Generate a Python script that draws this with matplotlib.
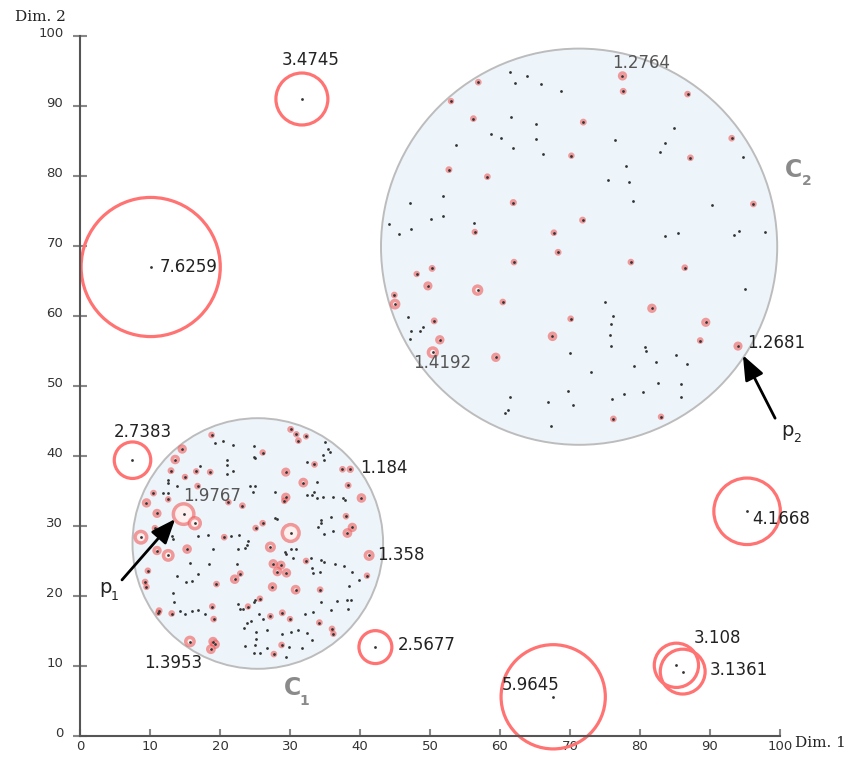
import matplotlib.pyplot as plt
from matplotlib.patches import Circle
from matplotlib.transforms import ScaledTranslation

# cluster discs (centre, radius)
clust_x = [25.4, 71.3]
clust_y = [27.5, 69.9]
clust_r = [17.9, 28.3]

# points of cluster C1 with their LOF score
c1_x = [18.8, 30.1, 30.9, 31.2, 32.3, 19.3, 20.5, 21.9, 24.8, 14.6,
        26.1, 24.8, 25.0, 35.0, 35.5, 35.7, 34.7, 13.6, 21.0, 21.0,
        32.4, 33.5, 34.8, 17.1, 13.0, 16.6, 18.6, 21.0, 21.9, 29.4,
        37.5, 38.6, 12.6, 12.6, 15.0, 13.8, 16.8, 31.9, 38.3, 33.8,
        24.3, 25.0, 24.7, 10.5, 11.9, 12.6, 12.6, 27.9, 32.4, 33.1,
        33.5, 33.8, 29.4, 29.2, 34.7, 36.2, 37.6, 37.9, 40.2, 9.5,
        21.2, 23.2, 11.0, 14.8, 16.4, 27.9, 28.1, 26.1, 34.4, 34.5,
        35.8, 38.0, 38.9, 38.2, 10.7, 25.1, 8.7, 13.1, 13.3, 30.1,
        16.9, 18.3, 20.6, 21.6, 22.7, 34.0, 34.9, 36.2, 11.0, 12.6,
        15.3, 19.0, 22.6, 23.6, 24.0, 23.8, 27.2, 29.3, 29.5, 30.2,
        30.9, 30.4, 32.3, 33.0, 34.5, 34.8, 36.4, 37.7, 41.3, 27.6,
        28.7, 28.2, 29.5, 15.7, 18.5, 22.4, 33.2, 33.3, 9.7, 34.3,
        38.9, 39.9, 41.0, 13.8, 16.8, 16.0, 15.2, 22.1, 22.9, 9.3,
        9.5, 19.5, 27.5, 30.8, 34.3, 38.4, 13.3, 13.5, 25.7, 25.0,
        24.9, 22.6, 22.9, 23.3, 24.0, 34.5, 36.7, 38.1, 38.7, 18.9,
        11.3, 11.2, 13.1, 14.3, 15.0, 16.0, 16.9, 17.9, 25.6, 26.2,
        27.2, 28.9, 32.1, 33.3, 35.8, 38.3, 19.1, 30.0, 34.2, 23.8,
        23.4, 24.5, 31.2, 30.1, 25.1, 25.2, 26.7, 28.9, 36.0, 36.2,
        33.2, 32.4, 15.7, 19.0, 19.3, 18.7, 23.6, 25.0, 26.7, 28.8,
        29.8, 31.7, 24.8, 25.7, 27.7, 29.5]
c1_y = [43.0, 43.8, 43.1, 42.2, 42.8, 41.8, 42.2, 41.6, 41.5, 41.0,
        40.5, 39.9, 39.7, 42.0, 41.0, 40.6, 40.1, 39.5, 39.4, 38.7,
        39.2, 38.8, 39.4, 38.6, 37.9, 37.8, 37.7, 37.5, 37.9, 37.7,
        38.1, 38.1, 36.6, 36.1, 37.0, 35.7, 35.7, 36.2, 35.8, 36.3,
        35.7, 35.7, 34.9, 34.7, 34.7, 34.7, 33.8, 34.8, 34.5, 34.4,
        34.9, 34.0, 34.1, 33.6, 34.1, 34.1, 34.0, 33.7, 34.0, 33.3,
        33.4, 32.9, 31.8, 31.7, 30.4, 31.2, 31.0, 30.4, 30.9, 30.5,
        31.3, 31.4, 29.8, 29.0, 29.7, 29.7, 28.4, 28.6, 28.2, 29.0,
        28.6, 28.7, 28.4, 28.6, 28.7, 29.8, 28.8, 29.3, 26.5, 25.8,
        26.7, 26.7, 26.7, 26.8, 27.8, 27.3, 27.0, 26.3, 26.0, 26.7,
        26.7, 25.5, 25.0, 25.5, 25.1, 24.8, 24.6, 24.3, 25.8, 24.6,
        24.4, 23.5, 23.3, 24.7, 24.6, 24.6, 24.0, 23.3, 23.6, 23.4,
        23.5, 22.3, 22.9, 22.9, 23.1, 22.1, 22.0, 22.4, 23.2, 22.0,
        21.3, 21.7, 21.3, 20.9, 20.9, 21.5, 20.5, 19.1, 19.6, 19.4,
        19.1, 18.9, 18.1, 18.1, 18.5, 19.1, 19.3, 19.4, 19.5, 18.5,
        17.9, 17.6, 17.5, 17.9, 17.5, 17.8, 18.0, 17.5, 17.5, 16.7,
        17.1, 17.6, 17.5, 17.7, 18.0, 18.2, 16.7, 16.7, 16.2, 16.2,
        15.5, 16.5, 15.2, 14.8, 14.8, 13.9, 15.1, 14.6, 15.3, 14.6,
        13.7, 14.7, 13.5, 13.5, 13.1, 12.4, 12.9, 13.0, 12.6, 13.0,
        12.7, 12.6, 11.8, 11.9, 11.7, 11.3]
c1_lof = [1.15, 1.16, 1.14, 1.15, 1.13, 0.97, 0.98, 0.96, 0.99, 1.28,
          1.14, 0.97, 0.98, 0.96, 0.99, 0.97, 0.98, 1.29, 0.97, 0.98,
          0.96, 1.15, 0.99, 0.97, 1.16, 1.14, 1.15, 0.98, 0.97, 1.27,
          1.15, 1.184, 0.98, 0.97, 1.14, 0.99, 1.15, 1.30, 1.16, 0.97,
          0.98, 0.96, 0.99, 1.15, 0.97, 0.98, 1.14, 0.97, 0.99, 0.98,
          0.96, 0.97, 1.28, 1.15, 0.98, 0.97, 0.99, 0.96, 1.29, 1.28,
          1.14, 1.15, 1.27, 1.9767, 1.52, 0.98, 0.97, 1.15, 0.99, 0.97,
          0.98, 1.15, 1.28, 1.30, 1.14, 1.15, 1.55, 0.97, 0.98, 1.80,
          0.97, 0.99, 1.15, 0.98, 0.96, 0.97, 0.98, 0.99, 1.28, 1.45,
          1.29, 0.97, 0.98, 0.96, 0.97, 0.99, 1.36, 0.98, 0.97, 0.96,
          0.98, 0.97, 1.15, 0.99, 0.98, 0.97, 0.96, 0.98, 1.358, 1.28,
          1.27, 1.29, 1.28, 0.97, 0.98, 0.99, 0.96, 0.97, 1.15, 0.98,
          0.97, 0.99, 1.14, 0.98, 0.97, 0.96, 0.98, 1.29, 1.15, 1.15,
          1.14, 1.15, 1.28, 1.30, 1.15, 0.97, 0.98, 0.99, 1.15, 0.97,
          0.98, 0.96, 0.97, 0.98, 1.14, 0.99, 0.97, 0.98, 0.96, 1.15,
          1.16, 1.14, 1.15, 0.97, 0.98, 0.99, 0.97, 0.96, 0.98, 0.97,
          1.15, 1.16, 0.98, 0.97, 0.99, 0.96, 1.15, 1.14, 1.15, 0.98,
          0.97, 0.96, 0.99, 0.98, 0.97, 0.96, 0.98, 0.97, 1.15, 1.14,
          0.98, 0.97, 1.3953, 1.28, 1.29, 1.30, 0.97, 0.98, 0.96, 1.15,
          0.99, 0.97, 0.98, 0.96, 1.15, 0.97]

# points of cluster C2 with their LOF score
c2_x = [61.5, 63.8, 62.2, 65.9, 68.7, 56.9, 77.5, 77.6, 86.8, 53.0,
        56.2, 61.6, 65.2, 71.9, 84.9, 58.7, 60.2, 65.1, 53.7, 61.8,
        76.5, 83.6, 82.8, 93.1, 66.2, 70.2, 87.2, 94.7, 78.0, 52.7,
        58.2, 75.4, 78.4, 51.8, 47.1, 61.9, 79.0, 90.3, 96.2, 51.8,
        50.1, 71.8, 56.3, 44.1, 45.6, 47.3, 56.4, 67.7, 83.6, 85.4,
        93.5, 94.1, 97.9, 68.3, 62.0, 78.7, 48.1, 50.3, 86.4, 49.7,
        56.8, 95.0, 44.9, 45.0, 60.4, 75.0, 81.7, 46.9, 50.6, 70.1,
        76.1, 75.8, 89.4, 47.3, 48.6, 49.0, 47.1, 51.4, 67.5, 75.7,
        88.6, 75.8, 80.7, 80.8, 94.0, 50.4, 59.4, 70.0, 85.2, 79.1,
        82.3, 86.7, 73.0, 82.6, 85.9, 69.7, 61.5, 66.8, 70.4, 76.0,
        77.7, 80.4, 85.8, 60.7, 61.2, 76.2, 83.0, 67.3]
c2_y = [94.8, 94.3, 93.3, 93.1, 92.2, 93.4, 94.3, 92.1, 91.7, 90.7,
        88.2, 88.4, 87.5, 87.7, 86.9, 86.0, 85.5, 85.3, 84.4, 84.0,
        85.1, 84.7, 83.4, 85.4, 83.1, 82.9, 82.6, 82.7, 81.4, 80.9,
        79.9, 79.4, 79.1, 77.2, 76.2, 76.2, 76.5, 75.8, 76.0, 74.3,
        73.8, 73.7, 73.3, 73.1, 71.7, 72.4, 72.0, 71.9, 71.5, 71.9,
        71.6, 72.2, 72.0, 69.1, 67.7, 67.7, 66.0, 66.8, 66.9, 64.3,
        63.7, 63.8, 63.0, 61.7, 62.0, 62.0, 61.1, 59.8, 59.3, 59.6,
        60.0, 58.9, 59.1, 57.9, 57.9, 58.5, 56.7, 56.6, 57.1, 57.3,
        56.5, 55.7, 55.6, 55.0, 55.7, 54.8, 54.1, 54.7, 54.4, 52.9,
        53.4, 53.2, 52.0, 50.5, 50.3, 49.3, 48.4, 47.7, 47.3, 48.2,
        48.8, 49.2, 48.4, 46.2, 46.6, 45.3, 45.6, 44.3]
c2_lof = [0.97, 0.98, 0.96, 0.99, 0.97, 1.15, 1.2764, 1.16, 1.15, 1.14,
          1.15, 0.98, 0.97, 1.16, 0.99, 0.97, 0.98, 0.96, 0.97, 0.99,
          0.98, 0.97, 0.96, 1.15, 0.98, 1.14, 1.15, 0.97, 0.99, 1.16,
          1.15, 0.98, 0.97, 0.96, 0.99, 1.17, 0.98, 0.97, 1.15, 0.96,
          0.98, 1.16, 0.97, 0.99, 0.98, 0.96, 1.14, 1.15, 0.97, 0.98,
          0.99, 0.96, 0.97, 1.16, 1.15, 1.15, 1.14, 1.16, 1.15, 1.27,
          1.38, 0.98, 1.15, 1.35, 1.15, 0.97, 1.28, 0.99, 1.16, 1.15,
          0.98, 0.97, 1.27, 0.96, 0.98, 0.97, 0.99, 1.28, 1.29, 0.97,
          1.15, 0.98, 0.96, 0.97, 1.2681, 1.4192, 1.28, 0.98, 0.97, 0.99,
          0.96, 0.98, 0.97, 0.99, 0.96, 0.98, 0.97, 0.99, 0.96, 0.98,
          0.97, 0.99, 0.96, 0.98, 0.97, 1.15, 1.14, 0.97]

# isolated outliers
out_x = [31.7, 10.1, 7.5, 95.3, 42.2, 67.6, 85.2, 86.1]
out_y = [91.0, 67.0, 39.4, 32.1, 12.7, 5.6, 10.1, 9.2]
out_lof = [3.4745, 7.6259, 2.7383, 4.1668, 2.5677, 5.9645, 3.108, 3.1361]

RING = 1.5  # ring radius per unit of (LOF - 1)

fig = plt.figure(figsize=(8.53, 7.58), dpi=100)
ax = fig.add_axes([80 / 853, 22 / 758, 700 / 853, 700 / 758])
ax.set_xlim(0, 100)
ax.set_ylim(0, 100)

for cx, cy, r in zip(clust_x, clust_y, clust_r):
    ax.add_patch(Circle((cx, cy), r, fc='#eef5fa', ec='#bcbcbc', lw=1.4,
                        zorder=1, clip_on=False))

halo_ec = (0.93, 0.36, 0.36, 0.6)
halo_fc = (1.0, 0.94, 0.94, 1.0)
for xs, ys, ls in [(c1_x, c1_y, c1_lof), (c2_x, c2_y, c2_lof)]:
    for x, y, l in zip(xs, ys, ls):
        if l > 1.05:
            ax.add_patch(Circle((x, y), RING * (l - 1), fc=halo_fc, ec=halo_ec,
                                lw=2.5, zorder=2, clip_on=False))
    ax.scatter(xs, ys, s=4, c='#333333', linewidths=0, zorder=3)

for x, y, l in zip(out_x, out_y, out_lof):
    ax.add_patch(Circle((x, y), RING * (l - 1), fc='none', ec='#ff7373',
                        lw=2.3, zorder=2, clip_on=False))
ax.scatter(out_x, out_y, s=4, c='#333333', linewidths=0, zorder=3)

# score labels
labels = [
    ('3.4745', 32.9, 96.6, 'center', '#222222'),
    ('7.6259', 11.4, 67.0, 'left', '#222222'),
    ('2.7383', 9.0, 43.4, 'center', '#222222'),
    ('1.9767', 14.7, 34.3, 'left', '#555555'),
    ('1.184', 40.0, 38.3, 'left', '#222222'),
    ('1.358', 42.4, 25.9, 'left', '#222222'),
    ('1.3953', 9.1, 10.4, 'left', '#222222'),
    ('2.5677', 45.4, 13.0, 'left', '#222222'),
    ('5.9645', 64.4, 7.3, 'center', '#222222'),
    ('3.108', 87.7, 14.0, 'left', '#222222'),
    ('3.1361', 89.9, 9.4, 'left', '#222222'),
    ('4.1668', 96.0, 31.0, 'left', '#222222'),
    ('1.2764', 76.0, 96.1, 'left', '#555555'),
    ('1.4192', 47.6, 53.3, 'left', '#555555'),
    ('1.2681', 95.3, 56.1, 'left', '#222222'),
]
for txt, x, y, ha, col in labels:
    ax.text(x, y, txt, ha=ha, va='center', fontsize=12, color=col, zorder=4)

# cluster names
ax.text(30.4, 6.9, 'C', fontsize=17, fontweight='bold', color='#8a8a8a',
        ha='center', va='center', zorder=4)
ax.text(32.0, 5.0, '1', fontsize=10, fontweight='bold', color='#8a8a8a',
        ha='center', va='center', zorder=4)
ax.text(101.9, 80.9, 'C', fontsize=17, fontweight='bold', color='#8a8a8a',
        ha='center', va='center', zorder=4)
ax.text(103.8, 79.3, '2', fontsize=10, fontweight='bold', color='#8a8a8a',
        ha='center', va='center', zorder=4)

# arrows to p1 and p2
arrow = dict(arrowstyle='-|>,head_length=0.75,head_width=0.3', color='black',
             lw=2, mutation_scale=20, shrinkA=0, shrinkB=0)
ax.annotate('', xy=(13.6, 31.0), xytext=(6.0, 22.3), arrowprops=arrow, zorder=5)
ax.annotate('', xy=(94.7, 54.4), xytext=(99.3, 45.4), arrowprops=arrow,
            zorder=5, annotation_clip=False)
ax.text(3.6, 21.2, 'p', fontsize=14, color='#222222', ha='center', va='center')
ax.text(5.0, 19.9, '1', fontsize=9, color='#222222', ha='center', va='center')
ax.text(101.1, 43.7, 'p', fontsize=14, color='#222222', ha='center', va='center')
ax.text(102.5, 42.5, '2', fontsize=9, color='#222222', ha='center', va='center')

# axes styling
for s in ['top', 'right']:
    ax.spines[s].set_visible(False)
for s in ['left', 'bottom']:
    ax.spines[s].set_color('#555555')
    ax.spines[s].set_linewidth(1.5)
ax.set_xticks(range(0, 101, 10))
ax.set_yticks(range(0, 101, 10))
ax.tick_params(axis='y', direction='inout', length=10, width=1.5, color='#888888',
               labelsize=9.5, labelcolor='#333333', pad=7)
ax.tick_params(axis='x', direction='in', length=5, width=1.5, color='#888888',
               labelsize=9.5, labelcolor='#333333', pad=3)
for lab in ax.get_yticklabels():
    lab.set_transform(lab.get_transform() + ScaledTranslation(0, 3 / 72, fig.dpi_scale_trans))

fig.text(40 / 853, 1 - 17 / 758, 'Dim. 2', family='DejaVu Serif', fontsize=11,
         ha='center', va='center', color='#222222')
fig.text(795 / 853, 1 - 743 / 758, 'Dim. 1', family='DejaVu Serif', fontsize=11,
         ha='left', va='center', color='#222222')

fig.savefig('out.png', dpi=100)
